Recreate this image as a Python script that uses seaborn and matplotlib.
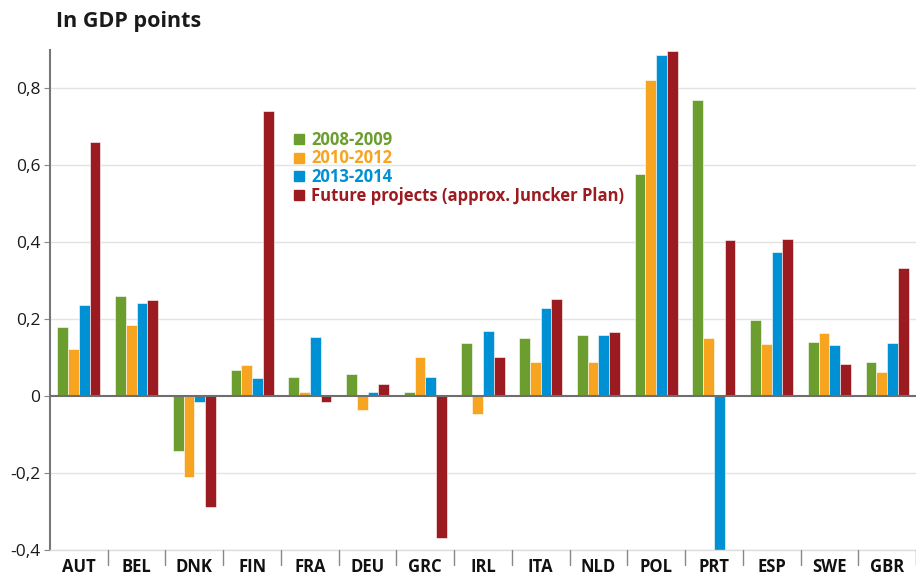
import matplotlib
matplotlib.use("Agg")
import matplotlib.pyplot as plt
import seaborn as sns
import pandas as pd
from matplotlib.lines import Line2D

countries = ["AUT", "BEL", "DNK", "FIN", "FRA", "DEU", "GRC", "IRL", "ITA", "NLD",
             "POL", "PRT", "ESP", "SWE", "GBR"]
series = ["2008-2009", "2010-2012", "2013-2014", "Future projects (approx. Juncker Plan)"]
v_2008_2009 = [0.179, 0.260, -0.143, 0.068, 0.050, 0.058, 0.010, 0.138, 0.150, 0.158,
               0.578, 0.770, 0.198, 0.142, 0.090]
v_2010_2012 = [0.122, 0.184, -0.210, 0.080, 0.010, -0.037, 0.101, -0.046, 0.089, 0.089,
               0.822, 0.152, 0.136, 0.163, 0.063]
v_2013_2014 = [0.236, 0.242, -0.015, 0.047, 0.155, 0.010, 0.050, 0.170, 0.228, 0.158,
               0.887, -0.420, 0.374, 0.133, 0.138]
v_future = [0.662, 0.249, -0.287, 0.742, -0.015, 0.031, -0.370, 0.101, 0.253, 0.167,
            0.897, 0.405, 0.409, 0.083, 0.332]
yticks = [-0.4, -0.2, 0, 0.2, 0.4, 0.6, 0.8]
ytick_labels = ["-0,4", "-0,2", "0", "0,2", "0,4", "0,6", "0,8"]
colors = ["#6b9e2f", "#f7a520", "#0090d4", "#9b1b20"]

rows = []
for s, vals in zip(series, [v_2008_2009, v_2010_2012, v_2013_2014, v_future]):
    for c, v in zip(countries, vals):
        rows.append({"country": c, "series": s, "value": v})
df = pd.DataFrame(rows)

sns.set_style("white")
plt.rcParams["font.family"] = ["Open Sans", "DejaVu Sans"]

fig = plt.figure(figsize=(9.16, 5.79), dpi=100)
ax = fig.add_axes([50 / 916, 29 / 579, 866 / 916, 500 / 579])

sns.barplot(data=df, x="country", y="value", hue="series", order=countries,
            hue_order=series, palette=colors, saturation=1, width=0.745, dodge=True,
            edgecolor="white", linewidth=0.4, ax=ax, legend=False, errorbar=None)

ax.set_ylim(-0.4, 0.9)
ax.set_xlim(-0.5, len(countries) - 0.5)
ax.set_yticks(yticks)
ax.set_yticklabels(ytick_labels, fontsize=12.5, color="#1a1a1a")
for y in yticks:
    if y != 0:
        ax.axhline(y, color="#e3e3e3", linewidth=1.0, zorder=0)
ax.axhline(0, color="#6e6e6e", linewidth=1.5, zorder=3)

ax.set_xlabel("")
ax.set_ylabel("")
ax.set_xticks(range(len(countries)))
ax.set_xticklabels(countries, fontsize=12, fontweight="bold", color="#111111")
ax.tick_params(axis="x", length=0, pad=6)
ax.tick_params(axis="y", length=4, color="#888888", width=0.8, left=True, pad=3)

for sp in ["top", "right"]:
    ax.spines[sp].set_visible(False)
ax.spines["left"].set_color("#777777")
ax.spines["left"].set_linewidth(1.5)
ax.spines["bottom"].set_color("#dddddd")
ax.spines["bottom"].set_linewidth(1.0)

for i in range(1, len(countries) + 1):
    ax.plot([i - 0.5, i - 0.5], [-0.4, -0.438], color="#888888", linewidth=1.0,
            clip_on=False, zorder=5)

fig.text(56 / 916, 1 - 21 / 579, "In GDP points", fontsize=15.5, fontweight="bold",
         color="#1a1a1a", va="center", ha="left")

handles = [Line2D([0], [0], marker="s", linestyle="", markersize=7,
                  markerfacecolor=c, markeredgecolor=c) for c in colors]
leg = ax.legend(handles, series, loc="upper left", bbox_to_anchor=(286 / 916, 1 - 124 / 579),
                bbox_transform=fig.transFigure, frameon=False, handletextpad=0.3,
                labelspacing=0.05, handlelength=0.8, borderaxespad=0,
                prop={"weight": "bold", "size": 12})
for t, c in zip(leg.get_texts(), colors):
    t.set_color(c)

fig.savefig("out.png", dpi=100)
